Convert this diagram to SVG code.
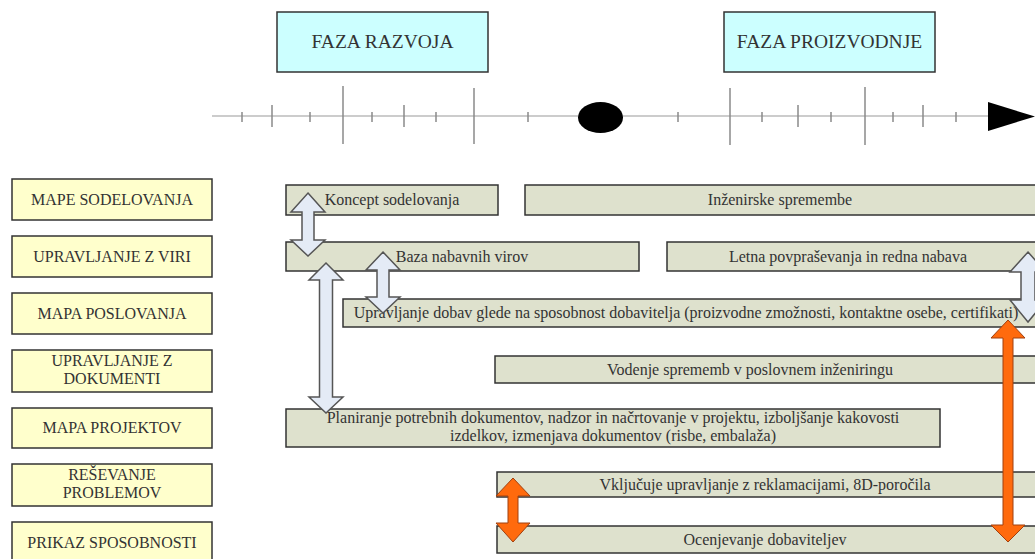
<svg xmlns="http://www.w3.org/2000/svg" width="1035" height="559" viewBox="0 0 1035 559">
  <style>
    text { font-family: "Liberation Serif", "Times New Roman", serif; fill: #333; text-anchor: middle; }
    .phase rect { fill: #CCFFFF; stroke: #333; stroke-width: 1.5; }
    .phase text { font-size: 19.5px; }
    .label rect { fill: #FFFFCC; stroke: #333; stroke-width: 1.5; }
    .label text { font-size: 16px; }
    .bar rect { fill: #DEE1CD; stroke: #333; stroke-width: 1.5; }
    .bar text { font-size: 16px; }
    .tick { stroke: #8a8a8a; stroke-width: 1.5; }
    .axis { stroke: #9a9a9a; stroke-width: 1.2; }
    .blue { fill: #E4EBF6; stroke: #555; stroke-width: 1.5; stroke-linejoin: miter; }
    .orange { fill: #FF6A0D; stroke: #A04010; stroke-width: 1; stroke-linejoin: miter; }
  </style>

  <!-- phase headers -->
  <g id="phase-razvoj" class="phase">
    <rect x="277" y="12" width="211" height="60"/>
    <text x="382.5" y="48">FAZA RAZVOJA</text>
  </g>
  <g id="phase-proizvodnja" class="phase">
    <rect x="724" y="12" width="211" height="60"/>
    <text x="829.5" y="48">FAZA PROIZVODNJE</text>
  </g>

  <!-- timeline -->
  <g id="timeline">
    <line class="axis" x1="212" y1="116" x2="990" y2="116"/>
    <g class="tick">
      <line x1="242" y1="112" x2="242" y2="122"/>
      <line x1="272" y1="105" x2="272" y2="127"/>
      <line x1="310" y1="112" x2="310" y2="122"/>
      <line x1="343" y1="86" x2="343" y2="144"/>
      <line x1="372" y1="112" x2="372" y2="122"/>
      <line x1="404" y1="105" x2="404" y2="127"/>
      <line x1="436" y1="112" x2="436" y2="122"/>
      <line x1="474" y1="88" x2="474" y2="144"/>
      <line x1="528" y1="112" x2="528" y2="122"/>
      <line x1="678" y1="112" x2="678" y2="122"/>
      <line x1="730" y1="88" x2="730" y2="145"/>
      <line x1="762" y1="112" x2="762" y2="122"/>
      <line x1="798" y1="105" x2="798" y2="127"/>
      <line x1="831" y1="112" x2="831" y2="122"/>
      <line x1="865" y1="87" x2="865" y2="145"/>
      <line x1="893" y1="112" x2="893" y2="122"/>
      <line x1="923" y1="105" x2="923" y2="127"/>
      <line x1="956" y1="112" x2="956" y2="122"/>
    </g>
    <ellipse cx="600.5" cy="117.5" rx="22.5" ry="15.5" fill="#000"/>
    <polygon points="988,102 1035,116.5 988,131" fill="#000"/>
  </g>

  <!-- row labels -->
  <g id="lbl-mape-sodelovanja" class="label">
    <rect x="12" y="179" width="200" height="41"/>
    <text x="112" y="205">MAPE SODELOVANJA</text>
  </g>
  <g id="lbl-upravljanje-viri" class="label">
    <rect x="12" y="236" width="200" height="41"/>
    <text x="112" y="262">UPRAVLJANJE Z VIRI</text>
  </g>
  <g id="lbl-mapa-poslovanja" class="label">
    <rect x="12" y="293" width="200" height="41"/>
    <text x="112" y="319">MAPA POSLOVANJA</text>
  </g>
  <g id="lbl-upravljanje-dokumenti" class="label">
    <rect x="12" y="350" width="200" height="42"/>
    <text x="112" y="366">UPRAVLJANJE Z</text>
    <text x="112" y="384">DOKUMENTI</text>
  </g>
  <g id="lbl-mapa-projektov" class="label">
    <rect x="12" y="408" width="200" height="40"/>
    <text x="112" y="433">MAPA PROJEKTOV</text>
  </g>
  <g id="lbl-resevanje-problemov" class="label">
    <rect x="12" y="464" width="200" height="42"/>
    <text x="112" y="480">REŠEVANJE</text>
    <text x="112" y="498">PROBLEMOV</text>
  </g>
  <g id="lbl-prikaz-sposobnosti" class="label">
    <rect x="12" y="522" width="200" height="41"/>
    <text x="112" y="548">PRIKAZ SPOSOBNOSTI</text>
  </g>

  <!-- activity bars -->
  <g id="bar-koncept" class="bar">
    <rect x="286" y="185" width="212" height="30"/>
    <text x="392" y="205">Koncept sodelovanja</text>
  </g>
  <g id="bar-inzenirske" class="bar">
    <rect x="525" y="185" width="515" height="30"/>
    <text x="780" y="205">Inženirske spremembe</text>
  </g>
  <g id="bar-baza" class="bar">
    <rect x="286" y="242" width="353" height="29"/>
    <text x="462" y="262">Baza nabavnih virov</text>
  </g>
  <g id="bar-letna" class="bar">
    <rect x="667" y="242" width="373" height="29"/>
    <text x="848" y="262">Letna povpraševanja in redna nabava</text>
  </g>
  <g id="bar-dobave" class="bar">
    <rect x="343" y="299" width="697" height="28"/>
    <text x="686" y="318">Upravljanje dobav glede na sposobnost dobavitelja (proizvodne zmožnosti, kontaktne osebe, certifikati)</text>
  </g>
  <g id="bar-vodenje" class="bar">
    <rect x="495" y="356" width="545" height="27"/>
    <text x="750" y="375">Vodenje sprememb v poslovnem inženiringu</text>
  </g>
  <g id="bar-planiranje" class="bar">
    <rect x="286" y="409" width="654" height="38"/>
    <text x="613" y="423">Planiranje potrebnih dokumentov, nadzor in načrtovanje v projektu, izboljšanje kakovosti</text>
    <text x="613" y="441">izdelkov, izmenjava dokumentov (risbe, embalaža)</text>
  </g>
  <g id="bar-vkljucuje" class="bar">
    <rect x="497" y="472" width="543" height="25"/>
    <text x="765" y="490">Vključuje upravljanje z reklamacijami, 8D-poročila</text>
  </g>
  <g id="bar-ocenjevanje" class="bar">
    <rect x="497" y="526" width="543" height="27"/>
    <text x="765" y="545">Ocenjevanje dobaviteljev</text>
  </g>

  <!-- connectors: double-headed block arrows -->
  <g id="connectors">
    <!-- Koncept sodelovanja <-> Baza nabavnih virov -->
    <polygon class="blue" points="308,193 325,212 314,212 314,240 325,240 308,256 291,240 302,240 302,212 291,212"/>
    <!-- Baza nabavnih virov <-> Upravljanje dobav -->
    <polygon class="blue" points="383,252 400,270 389,270 389,297 400,297 383,313 366,297 377,297 377,270 366,270"/>
    <!-- Baza nabavnih virov <-> Planiranje -->
    <polygon class="blue" points="326,263 343,280 332.5,280 332.5,397 343,397 326,413 309,397 319.5,397 319.5,280 309,280"/>
    <!-- Letna povpraševanja <-> Upravljanje dobav -->
    <polygon class="blue" points="1028,252 1046,272 1035,272 1035,300 1046,300 1028,322 1010,300 1021,300 1021,272 1010,272"/>
    <!-- Upravljanje dobav <-> Ocenjevanje dobaviteljev -->
    <polygon class="orange" points="1008,320 1025,338 1013,338 1013,525 1025,525 1008,542 991,525 1003,525 1003,338 991,338"/>
    <!-- Vključuje <-> Ocenjevanje dobaviteljev -->
    <polygon class="orange" points="513,478 530,496 518,496 518,523 530,523 513,542 496,523 508,523 508,496 496,496"/>
  </g>
</svg>
